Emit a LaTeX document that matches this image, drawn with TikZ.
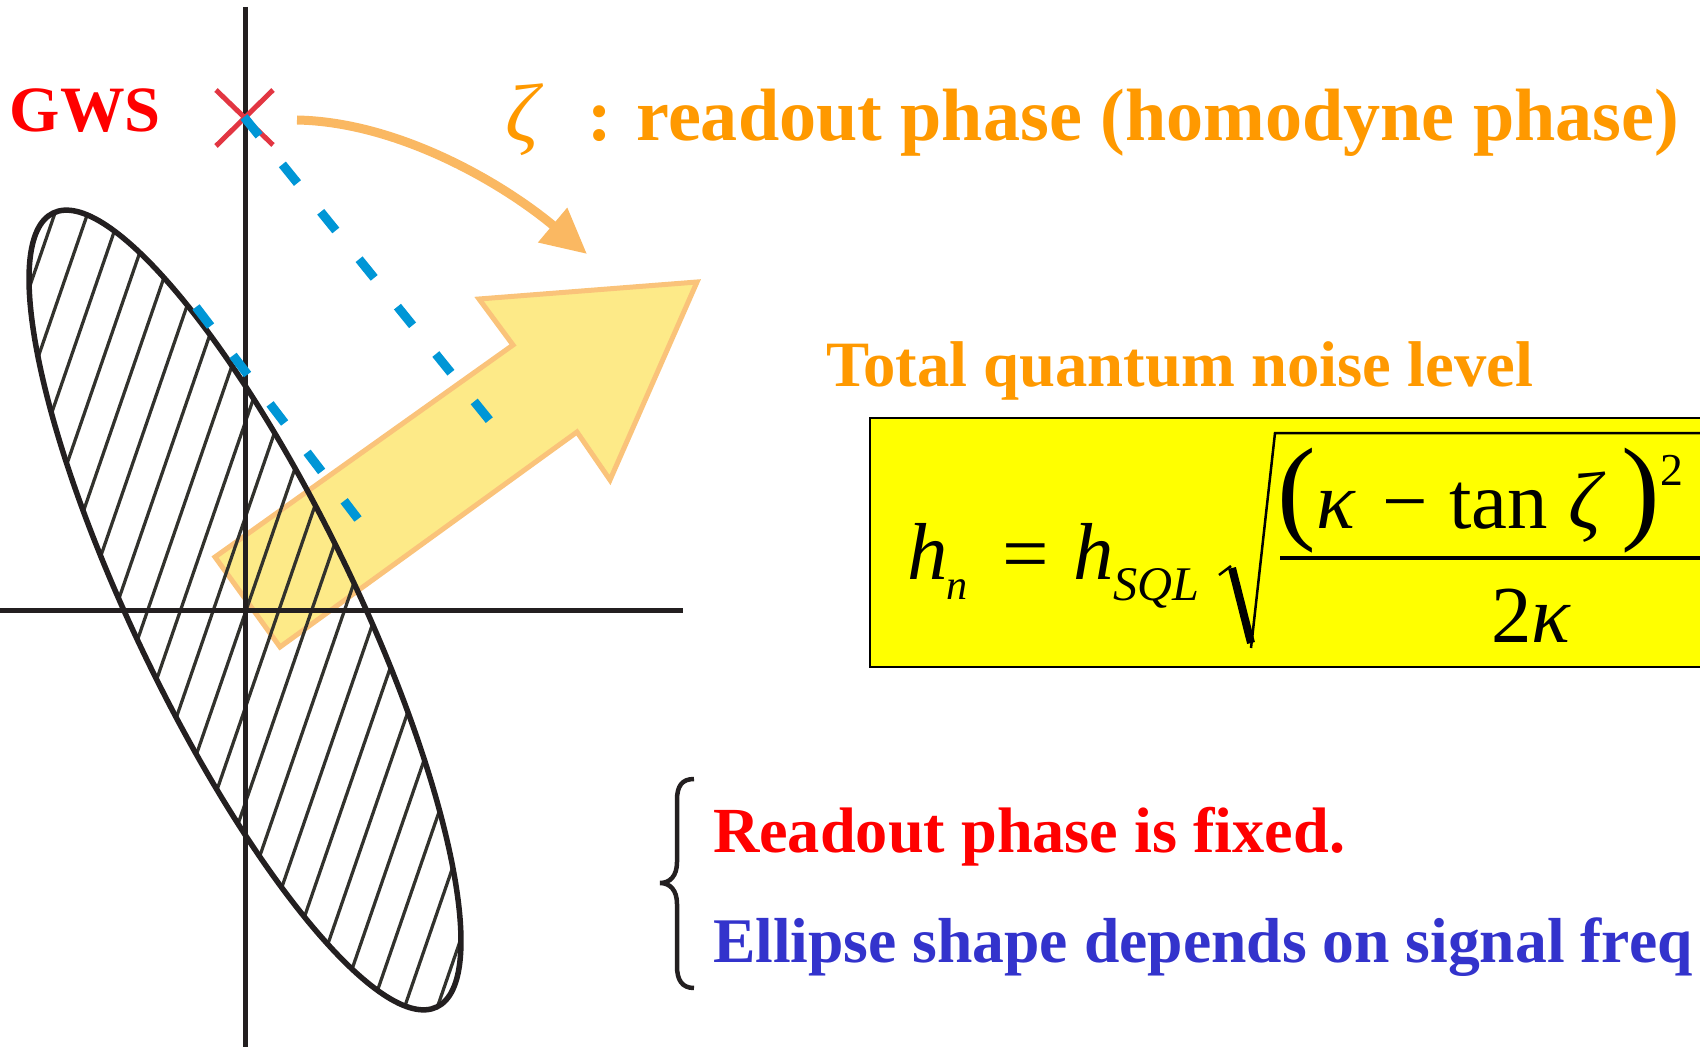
\documentclass[tikz,border=0pt]{standalone}
\usepackage{fontspec}
\setmainfont{Liberation Serif}
\usetikzlibrary{arrows.meta}
\definecolor{gwsred}{RGB}{255,0,0}
\definecolor{xred}{RGB}{226,54,66}
\definecolor{ora}{RGB}{255,153,0}
\definecolor{arcora}{RGB}{250,184,98}
\definecolor{arrfill}{RGB}{253,234,136}
\definecolor{arrline}{RGB}{250,195,122}
\definecolor{dashblue}{RGB}{0,150,214}
\definecolor{txtblue}{RGB}{51,51,204}
\definecolor{hatchcol}{RGB}{50,50,45}
\definecolor{boxyellow}{RGB}{255,255,0}
\definecolor{inkblack}{RGB}{35,31,32}
\newcommand\fsz[1]{\fontsize{#1}{#1}\selectfont}
\begin{document}
\begin{tikzpicture}[x=0.02cm,y=-0.02cm,
  lab/.style={inner sep=0pt, outer sep=0pt, anchor=base west},
  glyph/.style={inner sep=0pt, outer sep=0pt},
  axisline/.style={line width=0.1cm, inkblack},
  dashline/.style={dashblue, line width=0.18cm, dash pattern=on 0.48cm off 0.74cm},
  ellipsepath/.style={shift={(245,610)}, rotate=-64.2}]
\useasboundingbox (0,0) rectangle (1700,1047);
\begin{scope}
\clip (0,0) rectangle (1700,1047);
% big yellow arrow
\draw[fill=arrfill, draw=arrline, line width=0.1cm, line join=miter]
  (215,557) -- (513,345) -- (479,299) -- (697,282) -- (610,480) -- (577,432) -- (280,647) -- cycle;
% hatching of the ellipse
\begin{scope}
\clip[ellipsepath] (0,0) ellipse [x radius=8.82cm, y radius=2.2cm];
\foreach \k in {-12,...,12} {
  \draw[hatchcol, line width=0.065cm] ({279+32.8*\k-0.3446*480},1090) -- ({279+32.8*\k+0.3446*480},130);
}
\end{scope}
% ellipse outline
\draw[inkblack, line width=0.11cm, ellipsepath] (0,0) ellipse [x radius=8.82cm, y radius=2.2cm];
% axes
\coordinate (vtop) at (245,7);
\coordinate (vbot) at (245,1047);
\coordinate (hleft) at (0,610);
\coordinate (hright) at (683,610);
\draw[axisline] (vtop) -- (vbot);
\draw[axisline] (hleft) -- (hright);
% red cross (GWS)
\coordinate (gws) at (244,117);
\draw[xred, line width=0.1cm] (216,90) -- (273,145) (273,90) -- (216,146);
% blue dashed lines
\coordinate (d1end) at (490,421);
\coordinate (d2start) at (196,307);
\coordinate (d2end) at (358,519);
\draw[dashline] (gws) -- (d1end);
\draw[dashline] (d2start) -- (d2end);
% orange curved arrow
\coordinate (arcstart) at (297,120);
\coordinate (arctip) at (587,254);
\draw[arcora, line width=0.18cm, -{Triangle[length=0.9cm, width=0.86cm]}]
  (arcstart) .. controls (400,122) and (505,185) .. (arctip);
% texts
\node[lab, font=\fsz{36.8}\bfseries, text=gwsred] (gwslabel) at (10,132) {GWS};
\node[lab, font=\fsz{47}\itshape, text=ora] (zetalabel) at (505,142) {ζ};
\node[lab, font=\fsz{42.2}\bfseries, text=ora] (title) at (587,141) {: readout phase (homodyne phase)};
\node[lab, font=\fsz{36.8}\bfseries, text=ora] (tq) at (826,386) {Total quantum noise level};
% formula box
\draw[fill=boxyellow, draw=black, line width=0.05cm] (870,418) rectangle (1720,667);
\node[lab, font=\fsz{46}\itshape] (h1) at (907,579) {h};
\node[lab, font=\fsz{24}\itshape] (hn) at (946,599) {n};
\node[lab, font=\fsz{47}] (eq) at (1002,581) {=};
\node[lab, font=\fsz{46}\itshape] (h2) at (1073,579) {h};
\node[lab, font=\fsz{27.5}\itshape] (sql) at (1113,600) {SQL};
\draw[line width=0.05cm] (1219,575) -- (1231,566);
\draw[line width=0.16cm] (1232,568) -- (1251,643);
\draw[line width=0.05cm, line join=miter] (1251,648) -- (1275,433) -- (1700,433);
\node[glyph, font=\fsz{66}] (lp) at (1297,501) {\makebox[0pt]{(}};
\node[lab, font=\fsz{46}\itshape] (k1) at (1316,528) {κ};
\node[lab, font=\fsz{46}] (minus) at (1382,528) {−};
\node[lab, font=\fsz{46}] (tan) at (1449,528) {tan};
\node[lab, font=\fsz{46}\itshape] (z1) at (1568,528) {ζ};
\node[glyph, font=\fsz{66}] (rp) at (1641,501) {\makebox[0pt]{)}};
\node[lab, font=\fsz{26}] (sq) at (1660,485) {2};
\draw[line width=0.07cm] (1280,558) -- (1700,558);
\node[lab, font=\fsz{46}] (den) at (1491,642) {2\textit{κ}};
% brace and bottom texts
\draw[inkblack, line width=0.09cm]
  (694,779) .. controls (682,779) and (677,786) .. (677,800) -- (677,862)
  .. controls (677,876) and (670,883) .. (660,883)
  .. controls (670,883) and (677,890) .. (677,904) -- (677,966)
  .. controls (677,980) and (682,988) .. (694,988);
\node[lab, font=\fsz{36.6}\bfseries, text=gwsred] (fixed) at (713,852) {Readout phase is fixed.};
\node[lab, font=\fsz{36.2}\bfseries, text=txtblue] (shape) at (713,962) {Ellipse shape depends on signal freq};
\end{scope}
\end{tikzpicture}
\end{document}
